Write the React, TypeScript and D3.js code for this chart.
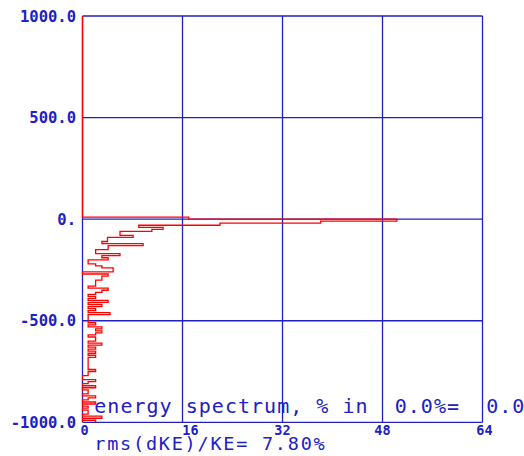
import React from "react";
import * as d3 from "d3";

// Energy bins (top edge of first bin, bin width) and percent in each bin
const firstBinTop = 10;
const binWidth = 10;
const spectrumPct = [
  17.0,
  50.3, 38.1, 22.0, 9.0, 12.9, 11.1, 6.0, 6.0, 8.1, 4.0,
  4.0, 3.1, 9.7, 4.1, 4.1, 2.1, 2.1, 6.0, 3.1, 4.1,
  0.9, 0.9, 2.1, 3.1, 4.9, 4.9, 0.0, 4.1, 3.1, 3.1,
  2.1, 2.1, 2.1, 0.9, 4.1, 3.1, 2.1, 0.9, 2.1, 0.9,
  4.1, 0.9, 3.1, 0.9, 2.1, 0.9, 4.4, 0.9, 0.9, 0.9,
  0.9, 2.1, 0.9, 3.1, 2.1, 3.1, 2.1, 0.9, 2.1, 2.1,
  0.9, 3.1, 0.9, 2.1, 0.9, 2.1, 0.9, 2.1, 0.9, 0.9,
  0.9, 0.9, 0.9, 0.9, 2.1, 0.9, 0.9, 0.0, 0.0, 2.1,
  0.9, 0.0, 2.1, 0.0, 0.9, 0.9, 0.0, 2.1, 0.9, 0.0,
  2.1, 0.0, 0.9, 0.0, 0.9, 0.9, 0.0, 3.1, 0.0, 2.1,
];

const xTicks = [0, 16, 32, 48, 64];
const xTickLabels = ["0", "16", "32", "48", "64"];
const yTicks = [-1000, -500, 0, 500, 1000];
const yTickLabels = ["-1000.0", "-500.0", "0.", "500.0", "1000.0"];
const titleLine = "energy spectrum, % in  0.0%=  0.0";
const rmsLine = "rms(dKE)/KE= 7.80%";

const BLUE = "#2020c4";
const RED = "#ff0000";

export default function App() {
  const W = 524;
  const H = 456;
  const x = d3.scaleLinear().domain([0, 64]).range([82.5, 482.5]);
  const y = d3.scaleLinear().domain([-1000, 1000]).range([422.3, 16]);

  const pts: [number, number][] = [[0, 1000], [0, firstBinTop]];
  spectrumPct.forEach((v, i) => {
    const top = firstBinTop - i * binWidth;
    const bot = top - binWidth;
    pts.push([v, top]);
    pts.push([v, Math.max(bot, -1000)]);
  });
  const line = d3
    .line<[number, number]>()
    .x((d) => x(d[0]))
    .y((d) => y(d[1]));

  const mono = "'DejaVu Sans Mono', 'Liberation Mono', monospace";
  const xLabelDx = [2, 8, 0, 0, 2];

  return (
    <svg
      width={W}
      height={H}
      style={{ position: "absolute", left: 0, top: 0, background: "#fff" }}
    >
      <rect x={0} y={0} width={W} height={H} fill="#fff" />
      {/* grid */}
      {xTicks.map((t) => (
        <line
          key={"gx" + t}
          x1={x(t)}
          x2={x(t)}
          y1={y(1000)}
          y2={y(-1000)}
          stroke={BLUE}
          strokeWidth={1.3}
        />
      ))}
      {yTicks.map((t) => (
        <line
          key={"gy" + t}
          x1={x(0)}
          x2={x(64)}
          y1={y(t)}
          y2={y(t)}
          stroke={BLUE}
          strokeWidth={1.3}
        />
      ))}
      {/* histogram */}
      <path d={line(pts) || ""} fill="none" stroke={RED} strokeWidth={1.3} />
      {/* y tick labels */}
      {yTicks.map((t, i) => (
        <text
          key={"ly" + t}
          x={76}
          y={y(t)}
          dy="0.36em"
          textAnchor="end"
          fill={BLUE}
          fontFamily={mono}
          fontWeight="bold"
          fontSize={15.5}
        >
          {yTickLabels[i]}
        </text>
      ))}
      {/* x tick labels */}
      {xTicks.map((t, i) => (
        <text
          key={"lx" + t}
          x={x(t) + xLabelDx[i]}
          y={435}
          textAnchor="middle"
          fill={BLUE}
          fontFamily={mono}
          fontWeight="bold"
          fontSize={13.5}
        >
          {xTickLabels[i]}
        </text>
      ))}
      <text
        x={94.3}
        y={413}
        fill={BLUE}
        fontFamily={mono}
        fontSize={20}
        letterSpacing={1.02}
        style={{ whiteSpace: "pre" }}
        xmlSpace="preserve"
      >
        {titleLine}
      </text>
      <text
        x={94.3}
        y={450}
        fill={BLUE}
        fontFamily={mono}
        fontSize={18.5}
        letterSpacing={1.76}
        style={{ whiteSpace: "pre" }}
        xmlSpace="preserve"
      >
        {rmsLine}
      </text>
    </svg>
  );
}
